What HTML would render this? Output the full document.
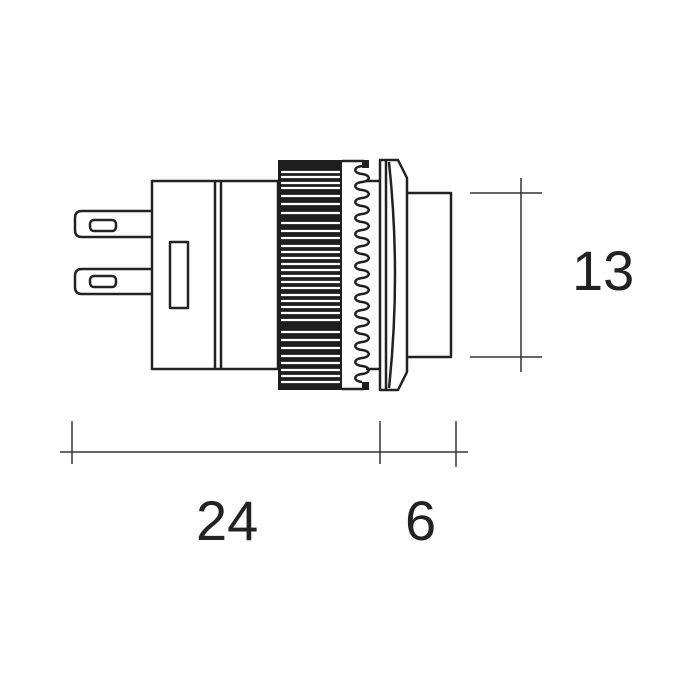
<!DOCTYPE html>
<html><head><style>html,body{margin:0;padding:0;background:#fff}svg{display:block}</style></head>
<body>
<svg width="700" height="700" viewBox="0 0 700 700" xmlns="http://www.w3.org/2000/svg">
<g fill="none" stroke="#222" stroke-width="2.5" stroke-linejoin="round">
<path d="M152 211 H82 Q75 211 75 218 V230 Q75 237 82 237 H152"/>
<rect x="90" y="220" width="26" height="11" rx="4"/>
<path d="M152 269 H82 Q75 269 75 276 V287 Q75 294 82 294 H152"/>
<rect x="90" y="276" width="26" height="11" rx="4"/>
<rect x="152" y="181" width="126" height="188"/>
<line x1="215" y1="181" x2="215" y2="369"/>
<line x1="221" y1="181" x2="221" y2="369"/>
<rect x="170" y="242" width="18" height="66"/>
<line x1="342" y1="161" x2="364" y2="161"/>
<line x1="342" y1="389" x2="364" y2="389"/>
<line x1="366" y1="181" x2="380" y2="181"/>
<line x1="366" y1="369" x2="380" y2="369"/>
<path d="M380 160 H398 L407 178 V372 L398 390 H380 Z"/>
<line x1="386" y1="161" x2="386" y2="389"/>
<path d="M389 162 Q401 275 389 388"/>
<path d="M407 193 H451 V357 H407"/>
</g>
<rect x="278" y="160" width="64" height="230" fill="#1e1e1e"/>
<g stroke="#fff" stroke-width="2.2">
<line x1="281" y1="172" x2="340" y2="172"/><line x1="281" y1="177" x2="340" y2="177"/>
<line x1="281" y1="183" x2="340" y2="183"/><line x1="281" y1="188" x2="340" y2="188"/>
<line x1="281" y1="196" x2="340" y2="196"/><line x1="281" y1="204" x2="340" y2="204"/>
<line x1="281" y1="213" x2="340" y2="213"/><line x1="281" y1="223" x2="340" y2="223"/>
<line x1="281" y1="231" x2="340" y2="231"/><line x1="281" y1="238" x2="340" y2="238"/>
<line x1="281" y1="246" x2="340" y2="246"/><line x1="281" y1="252" x2="340" y2="252"/>
<line x1="281" y1="258" x2="340" y2="258"/><line x1="281" y1="264" x2="340" y2="264"/>
<line x1="281" y1="270" x2="340" y2="270"/><line x1="281" y1="276" x2="340" y2="276"/>
<line x1="281" y1="282" x2="340" y2="282"/><line x1="281" y1="288" x2="340" y2="288"/>
<line x1="281" y1="295" x2="340" y2="295"/><line x1="281" y1="301" x2="340" y2="301"/>
<line x1="281" y1="307" x2="340" y2="307"/><line x1="281" y1="313" x2="340" y2="313"/>
<line x1="281" y1="320" x2="340" y2="320"/><line x1="281" y1="332" x2="340" y2="332"/>
<line x1="281" y1="340" x2="340" y2="340"/><line x1="281" y1="348" x2="340" y2="348"/>
<line x1="281" y1="356" x2="340" y2="356"/><line x1="281" y1="363" x2="340" y2="363"/>
<line x1="281" y1="370" x2="340" y2="370"/><line x1="281" y1="376" x2="340" y2="376"/>
<line x1="281" y1="382" x2="340" y2="382"/>
</g>
<rect x="362" y="160" width="7" height="8" fill="#1e1e1e"/>
<rect x="362" y="382" width="7" height="8" fill="#1e1e1e"/>
<path d="M364 166 c-9 1 -9 7 0 8 c9 1 9 7 0 8 c-9 1 -9 7 0 8 c9 1 9 7 0 8 c-9 1 -9 7 0 8 c9 1 9 7 0 8 c-9 1 -9 7 0 8 c9 1 9 7 0 8 c-9 1 -9 7 0 8 c9 1 9 7 0 8 c-9 1 -9 7 0 8 c9 1 9 7 0 8 c-9 1 -9 7 0 8 c9 1 9 7 0 8 c-9 1 -9 7 0 8 c9 1 9 7 0 8 c-9 1 -9 7 0 8 c9 1 9 7 0 8 c-9 1 -9 7 0 8 c9 1 9 7 0 8 c-9 1 -9 7 0 8 c9 1 9 7 0 8 c-9 1 -9 7 0 8 c9 1 9 7 0 8 c-9 1 -9 7 0 8 c9 1 9 7 0 8 c-9 1 -9 7 0 8" fill="none" stroke="#1e1e1e" stroke-width="2.4" transform="translate(-2 0)"/>
<g stroke="#333" stroke-width="1.5">
<line x1="521" y1="178" x2="521" y2="372"/>
<line x1="470" y1="193" x2="542" y2="193"/>
<line x1="470" y1="357" x2="542" y2="357"/>
<line x1="60" y1="452" x2="468" y2="452"/>
<line x1="72" y1="421" x2="72" y2="464"/>
<line x1="380" y1="421" x2="380" y2="464"/>
<line x1="456" y1="421" x2="456" y2="467"/>
</g>
<g font-family="Liberation Sans, sans-serif" font-size="56" fill="#222">
<text x="572" y="290">13</text>
<text x="196" y="540">24</text>
<text x="405" y="540">6</text>
</g>
</svg>
</body></html>
